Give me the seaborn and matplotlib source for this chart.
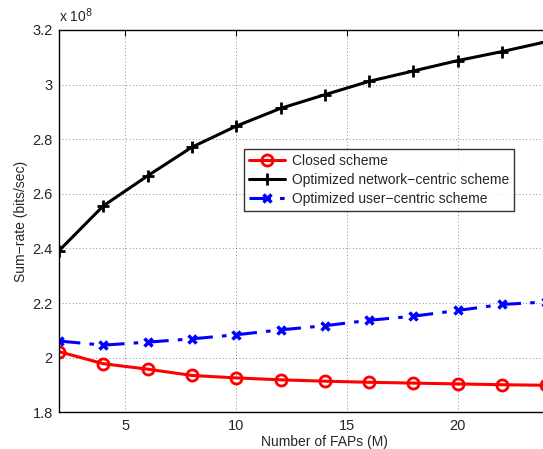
import numpy as np
import pandas as pd
import matplotlib
matplotlib.use("Agg")
import matplotlib.pyplot as plt
import seaborn as sns

# number of FAPs
faps = [2, 4, 6, 8, 10, 12, 14, 16, 18, 20, 22, 24]
# sum-rate values, in units of 1e8 bits/sec
closed = [2.022, 1.978, 1.958, 1.935, 1.926, 1.919, 1.914, 1.910, 1.907, 1.904, 1.901, 1.899]
network = [2.392, 2.556, 2.666, 2.771, 2.848, 2.913, 2.963, 3.012, 3.050, 3.088, 3.121, 3.157]
user = [2.061, 2.046, 2.057, 2.069, 2.084, 2.102, 2.117, 2.137, 2.152, 2.173, 2.195, 2.204]

labels = ["Closed scheme", "Optimized network\u2212centric scheme", "Optimized user\u2212centric scheme"]
xticks = [5, 10, 15, 20]
yticks = [1.8, 2.0, 2.2, 2.4, 2.6, 2.8, 3.0, 3.2]
ytick_labels = ["1.8", "2", "2.2", "2.4", "2.6", "2.8", "3", "3.2"]

sns.set_style("white")
plt.rcParams['font.family'] = ['Liberation Sans', 'DejaVu Sans']
plt.rcParams['font.size'] = 10

fig = plt.figure(figsize=(5.43, 4.49), dpi=100)
ax = fig.add_axes([0.1087, 0.0817, 0.979, 0.8515])

df = pd.DataFrame({"M": faps, "closed": closed, "network": network, "user": user})

sns.lineplot(data=df, x="M", y="closed", ax=ax, color="red", lw=2.2,
             marker="o", markersize=8, markerfacecolor="none",
             markeredgecolor="red", markeredgewidth=2, label=labels[0])
sns.lineplot(data=df, x="M", y="network", ax=ax, color="black", lw=2.2,
             marker="+", markersize=9, markeredgecolor="black",
             markeredgewidth=2, label=labels[1])
sns.lineplot(data=df, x="M", y="user", ax=ax, color="blue", lw=2.2,
             marker="x", markersize=6, markeredgecolor="blue",
             markeredgewidth=2.5, label=labels[2])
ax.lines[2].set_dashes([7, 3, 1.5, 3])

ax.set_xlim(2, 26)
ax.set_ylim(1.8, 3.2)
ax.set_xticks(xticks)
ax.set_yticks(yticks)
ax.set_yticklabels(ytick_labels)
ax.grid(True, color="black", linestyle=(0, (1, 3)), linewidth=0.6, alpha=0.6)
ax.tick_params(direction="in", top=True, right=True, length=4, pad=4.5,
               labelsize=10.5, color="black")
for s in ax.spines.values():
    s.set_color("black")
    s.set_linewidth(1.0)

ax.set_xlabel("Number of FAPs (M)", fontsize=10, labelpad=1.5)
ax.set_ylabel("Sum\u2212rate (bits/sec)", fontsize=10, labelpad=3)
ax.text(0.0, 1.012, "x 10$^8$", transform=ax.transAxes, fontsize=10, va="bottom", ha="left")

leg = ax.legend(loc="upper left", bbox_to_anchor=(0.3486, 0.688), borderaxespad=0,
                frameon=True, fancybox=False, fontsize=10, handlelength=2.6,
                labelspacing=0.35, borderpad=0.35, handletextpad=0.5)
leg.get_frame().set_edgecolor("black")
leg.get_frame().set_linewidth(1.0)

fig.savefig("out.png", dpi=100)
